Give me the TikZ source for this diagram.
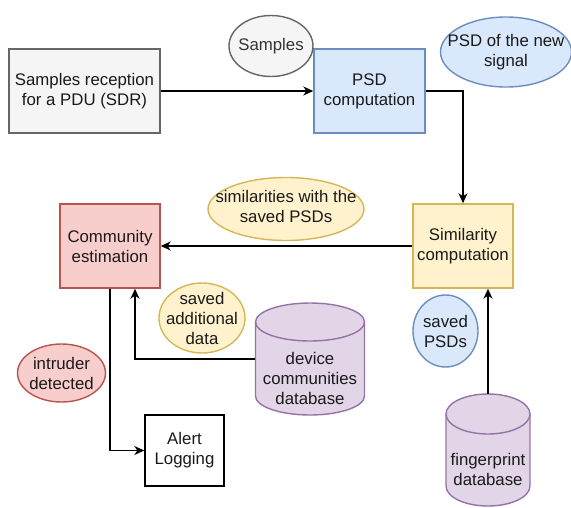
\documentclass[tikz,border=0pt]{standalone}
\usepackage{fontspec}
\setmainfont{Liberation Sans}
\usetikzlibrary{arrows.meta,shapes.geometric,calc}
\definecolor{grayF}{HTML}{F5F5F5}\definecolor{grayS}{HTML}{666666}
\definecolor{blueF}{HTML}{DAE8FC}\definecolor{blueS}{HTML}{6C8EBF}
\definecolor{yelF}{HTML}{FFF2CC}\definecolor{yelS}{HTML}{D6B656}
\definecolor{redF}{HTML}{F8CECC}\definecolor{redS}{HTML}{B85450}
\definecolor{purF}{HTML}{E1D5E7}\definecolor{purS}{HTML}{9673A6}
\definecolor{txt}{HTML}{1A1A1A}\definecolor{txtg}{HTML}{333333}
\tikzset{
  lbl/.style={font=\fontsize{16.8}{20}\selectfont, align=center, text=txt},
  box/.style={lbl, draw, line width=1.4pt, rectangle, inner sep=0pt},
  oval/.style={draw, line width=1.4pt, ellipse, inner sep=0pt},
  arr/.style={line width=1.4pt, draw=black, -{Stealth[length=10pt,width=9pt,inset=3pt]}},
  cyl/.style={fill=purF, draw=purS, line width=1.4pt},
}
\begin{document}
\begin{tikzpicture}[x=1pt,y=1pt]
\useasboundingbox (0,0) rectangle (571,-507);
% boxes
\node[box, fill=grayF, draw=grayS, minimum width=151pt, minimum height=84pt] (rec) at (84.5,-91) {Samples reception\\for a PDU (SDR)};
\node[box, fill=blueF, draw=blueS, minimum width=111pt, minimum height=84pt] (psd) at (369.5,-91) {PSD\\computation};
\node[box, fill=yelF, draw=yelS, minimum width=100pt, minimum height=84pt] (sim) at (463,-246) {Similarity\\computation};
\node[box, fill=redF, draw=redS, minimum width=100pt, minimum height=84pt] (comm) at (110,-246) {Community\\estimation};
\node[box, fill=white, draw=black, minimum width=79pt, minimum height=71pt] (alert) at (184.5,-450.5) {Alert\\Logging};
% ellipses
\node[oval, fill=grayF, draw=grayS, minimum width=84pt, minimum height=61pt] (samp) at (271,-46) {};
\node[lbl, text=txtg] (samptext) at (samp) {Samples};
\node[oval, fill=blueF, draw=blueS, minimum width=131pt, minimum height=70pt] (newpsd) at (506,-52) {};
\node[lbl] (newpsdtext) at (newpsd) {PSD of the new\\signal};
\node[oval, fill=yelF, draw=yelS, minimum width=156pt, minimum height=63pt] (simlab) at (286,-209) {};
\node[lbl] (simlabtext) at (286,-206) {similarities with the\\saved PSDs};
\node[oval, fill=yelF, draw=yelS, minimum width=86pt, minimum height=70pt] (addl) at (202,-318) {};
\node[lbl] (addltext) at (addl) {saved\\additional\\data};
\node[oval, fill=redF, draw=redS, minimum width=88pt, minimum height=58pt] (intr) at (61.5,-373) {};
\node[lbl] (intrtext) at (intr) {intruder\\detected};
\node[oval, fill=blueF, draw=blueS, minimum width=65pt, minimum height=72pt] (spsd) at (445.5,-331) {};
\node[lbl] (spsdtext) at (spsd) {saved\\PSDs};
% device communities database cylinder
\draw[cyl] (255.5,-322) -- (255.5,-396) arc[start angle=180,end angle=360,x radius=54.5,y radius=19] -- (364.5,-322) arc[start angle=0,end angle=180,x radius=54.5,y radius=19] -- cycle;
\draw[cyl, fill=none] (255.5,-322) arc[start angle=180,end angle=360,x radius=54.5,y radius=19];
\node[minimum width=109pt, minimum height=112pt, inner sep=0pt] (dc) at (310,-359) {};
\node[lbl] (dctext) at (310,-378) {device\\communities\\database};
% fingerprint database cylinder
\draw[cyl] (446,-414) -- (446,-486) arc[start angle=180,end angle=360,x radius=42,y radius=20] -- (530,-414) arc[start angle=0,end angle=180,x radius=42,y radius=20] -- cycle;
\draw[cyl, fill=none] (446,-414) arc[start angle=180,end angle=360,x radius=42,y radius=20];
\node[minimum width=84pt, minimum height=112pt, inner sep=0pt] (fp) at (488,-450) {};
\node[lbl] (fptext) at (488,-469) {fingerprint\\database};
% connectors
\draw[arr] (rec.east) -- (psd.west);
\draw[arr] (psd.east) -| (sim.north);
\draw[arr] (sim.west) -- (comm.east);
\draw[arr] (dc.west) -| ([xshift=25pt]comm.south);
\draw[arr] (comm.south) |- (alert.west);
\draw[arr] (fp.north) -- (fp.north |- sim.south);
\end{tikzpicture}
\end{document}
